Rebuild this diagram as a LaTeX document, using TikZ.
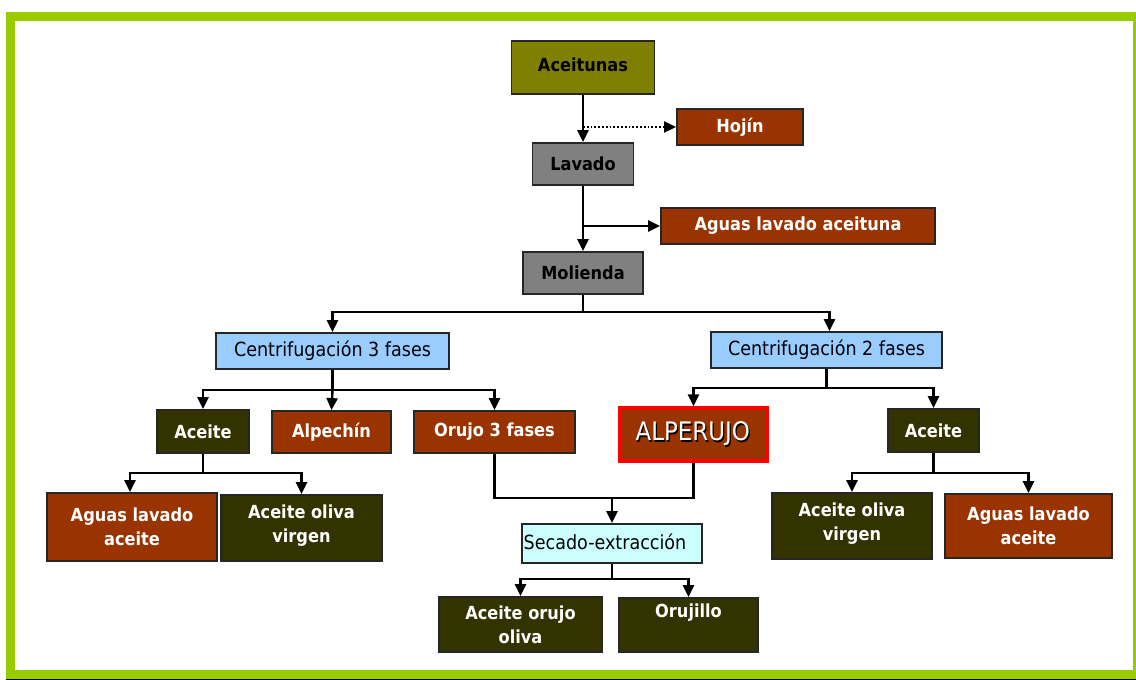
\documentclass[tikz,border=0pt]{standalone}
\usepackage{fontspec}
\setmainfont{DejaVu Sans Condensed}
\usetikzlibrary{arrows.meta}
\definecolor{frame}{HTML}{99CC00}
\definecolor{olivebox}{HTML}{808000}
\definecolor{graybox}{HTML}{808080}
\definecolor{brownbox}{HTML}{993300}
\definecolor{darkbox}{HTML}{333300}
\definecolor{bluebox}{HTML}{99CCFF}
\definecolor{cyanbox}{HTML}{CCFFFF}
\tikzset{
  box/.style={draw=black!85, line width=1.8pt, inner sep=0pt, align=center,
    font=\fontsize{19.5}{24}\selectfont},
  darktext/.style={box, text=black},
  boldtext/.style={box, text=black, font=\fontsize{18}{24}\selectfont\bfseries},
  lighttext/.style={box, text=white, font=\fontsize{18}{24}\selectfont\bfseries},
  flow/.style={line width=2.4pt, -{Triangle[length=12pt,width=11pt]}},
  link/.style={line width=2.4pt},
}
\begin{document}
\begin{tikzpicture}[x=1pt,y=-1pt]
  \useasboundingbox (0,0) rectangle (1136,680);
  % green frame and bottom rule
  \draw[frame, line width=9pt] (10.5,16.5) rectangle (1137.5,674.5);
  \draw[black, line width=1.5pt] (6,679.6) -- (1136,679.6);

  % main line
  \node[boldtext, fill=olivebox, minimum width=143pt, minimum height=53pt] (ace) at (583,67.5) {\raisebox{5pt}{Aceitunas}};
  \node[lighttext, fill=brownbox, minimum width=126pt, minimum height=36pt] (hoj) at (740,127) {\raisebox{3pt}{Hojín}};
  \node[boldtext, fill=graybox, minimum width=101pt, minimum height=42pt] (lav) at (583,164) {Lavado};
  \node[lighttext, fill=brownbox, minimum width=274pt, minimum height=36pt] (agl) at (798,226) {\raisebox{3pt}{Aguas lavado aceituna}};
  \node[boldtext, fill=graybox, minimum width=120pt, minimum height=42pt] (mol) at (583,273) {Molienda};

  % centrifugation stages
  \node[darktext, fill=bluebox, minimum width=233pt, minimum height=36pt] (c3) at (332.5,351) {\raisebox{3pt}{Centrifugación 3 fases}};
  \node[darktext, fill=bluebox, minimum width=231pt, minimum height=36pt] (c2) at (826.5,350) {\raisebox{3pt}{Centrifugación 2 fases}};

  % three-phase products
  \node[lighttext, fill=darkbox, minimum width=92pt, minimum height=43pt] (a3) at (203,431.5) {Aceite};
  \node[lighttext, fill=brownbox, minimum width=119pt, minimum height=42pt] (alp) at (331.5,432) {Alpechín};
  \node[lighttext, fill=brownbox, minimum width=161pt, minimum height=42pt] (or3) at (494.5,432) {Orujo 3 fases};
  \node[lighttext, fill=brownbox, minimum width=170pt, minimum height=68pt] (alv1) at (132,527) {Aguas lavado\\aceite};
  \node[lighttext, fill=darkbox, minimum width=161pt, minimum height=66pt] (aov1) at (301.5,528) {Aceite oliva\\virgen\\[-16pt]};

  % two-phase products
  \node[box, draw=red, line width=4pt, fill=brownbox, minimum width=145pt, minimum height=51pt,
        font=\fontsize{25.5}{28}\selectfont] (alpj) at (693.5,434.5)
        {\tikz[baseline]{\node[inner sep=0pt,anchor=base,text=black] at (1.3pt,-1.3pt) {ALPERUJO};
                         \node[inner sep=0pt,anchor=base,text=white] at (0,0) {ALPERUJO};}};
  \node[lighttext, fill=darkbox, minimum width=91pt, minimum height=43pt] (a2) at (933.5,430.5) {Aceite};
  \node[lighttext, fill=darkbox, minimum width=160pt, minimum height=66pt] (aov2) at (852,526) {Aceite oliva\\virgen\\[-16pt]};
  \node[lighttext, fill=brownbox, minimum width=167pt, minimum height=64pt] (alv2) at (1028.5,526) {Aguas lavado\\aceite};

  % drying and extraction
  \node[darktext, fill=cyanbox, minimum width=180pt, minimum height=39pt] (sec) at (612,543.5) {\raisebox{3pt}{Secado-extracción\kern14pt}};
  \node[lighttext, fill=darkbox, minimum width=163pt, minimum height=55pt] (aoo) at (520.5,624.5) {Aceite orujo\\oliva};
  \node[lighttext, fill=darkbox, minimum width=139pt, minimum height=54pt] (orj) at (688.5,625) {Orujillo\\\phantom{g}};

  % connectors of the main line
  \coordinate (d1) at (583,127);
  \draw[flow] (ace.south) -- (lav.north);
  \draw[flow, line width=1.8pt, dotted] (d1) -- (hoj.west);
  \draw[flow] (lav.south) -- (mol.north);
  \draw[flow] (lav.south |- agl.west) -- (agl.west);

  \coordinate (m1) at (583,312);
  \draw[link] (mol.south) -- (m1);
  \draw[flow] (m1) -| (c3.north);
  \draw[flow] (m1) -| ([xshift=3pt]c2.north);

  % three-phase branches
  \coordinate (b3) at (332.5,390);
  \draw[link] (c3.south) -- (b3);
  \draw[flow] (b3) -| (a3.north);
  \draw[flow] (b3) -- (alp.north);
  \draw[flow] (b3) -| (or3.north);

  \coordinate (ba3) at (203,473);
  \draw[link] (a3.south) -- (ba3);
  \draw[flow] (ba3) -| ([xshift=-2pt]alv1.north);
  \draw[flow] (ba3) -| (aov1.north);

  % two-phase branches
  \coordinate (b2) at (826.5,388);
  \draw[link] (c2.south) -- (b2);
  \draw[flow] (b2) -| (alpj.north);
  \draw[flow] (b2) -| (a2.north);

  \coordinate (ba2) at (933.5,473);
  \draw[link] (a2.south) -- (ba2);
  \draw[flow] (ba2) -| (aov2.north);
  \draw[flow] (ba2) -| (alv2.north);

  % pomace to drying
  \coordinate (j) at (612,498);
  \draw[link] (or3.south) |- (j);
  \draw[link] (alpj.south) |- (j);
  \draw[flow] (j) -- (sec.north);

  \coordinate (bs) at (612,579);
  \draw[link] (sec.south) -- (bs);
  \draw[flow] (bs) -| (aoo.north);
  \draw[flow] (bs) -| (orj.north);
\end{tikzpicture}
\end{document}
